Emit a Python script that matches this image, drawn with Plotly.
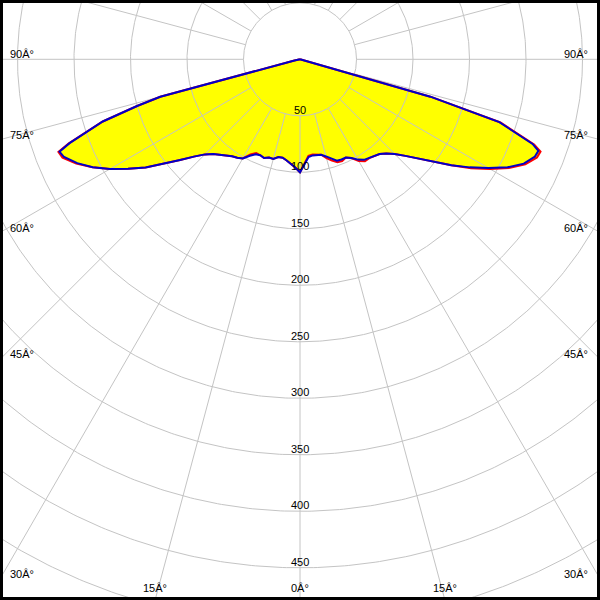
import numpy as np
import plotly.graph_objects as go

# ---- data (gamma in degrees, intensity in cd/klm) ----
gamma = [0, 2.5, 5, 7.5, 10, 12.5, 15, 17.5, 20, 22.5, 25, 27.5, 30, 32.5, 35, 37.5,
         40, 42.5, 45, 47.5, 50, 52.5, 55, 57.5, 60, 62.5, 65, 67.5, 69, 70, 72.5,
         74, 75, 77.5, 80, 85, 90]

# C90-C270 plane (blue)
blue_left = [100, 95.8, 92.8, 90.3, 88.5, 88.6, 91.3, 91.1, 93.0, 91.9, 92.7, 96.2,
             101.3, 103.3, 104.8, 107.3, 110.3, 113.7, 119.0, 127.5, 138.5, 151.8,
             166.8, 180.4, 194.2, 206.8, 217.5, 226.0, 228.0, 217.0, 183.0, 150.0,
             128.0, 5, 3, 1, 0]
blue_right = [100, 93.0, 86.8, 85.8, 86.0, 86.5, 89.0, 92.0, 95.5, 96.0, 96.0, 98.5,
              102.5, 105.5, 106.8, 108.0, 109.5, 113.0, 118.5, 126.5, 136.5, 149.0,
              163.5, 178.0, 192.5, 207.0, 218.5, 225.0, 226.0, 219.0, 185.0, 120.0,
              6, 3, 2, 1, 0]

# C0-C180 plane (red)
red_left = [100, 95.8, 92.8, 90.3, 88.5, 88.6, 91.3, 91.1, 93.0, 91.9, 91.5, 95.0,
            101.3, 103.3, 104.8, 107.3, 110.3, 113.7, 119.0, 127.5, 138.5, 151.8,
            166.8, 180.4, 194.2, 207.0, 218.5, 227.5, 229.0, 218.0, 183.0, 150.0,
            128.0, 5, 3, 1, 0]
red_right = [100, 92.0, 85.8, 85.0, 86.0, 86.5, 90.5, 94.0, 97.0, 97.5, 96.0, 98.5,
             104.0, 107.0, 106.8, 108.0, 109.5, 113.0, 118.5, 126.5, 136.5, 149.0,
             163.5, 179.5, 194.0, 208.5, 220.0, 227.0, 228.0, 220.5, 186.0, 120.0,
             6, 3, 2, 1, 0]

grid_radii = [50, 100, 150, 200, 250, 300, 350, 400, 450, 500, 550]
grid_angles = list(range(0, 360, 15))
radial_values = [50, 100, 150, 200, 250, 300, 350, 400, 450]
side_angles = [90, 75, 60, 45, 30]
side_labels = ["90Â°", "75Â°", "60Â°", "45Â°", "30Â°"]
bottom_angles = [-15, 0, 15]
bottom_labels = ["15Â°", "0Â°", "15Â°"]

# ---- layout constants ----
W, H = 600, 600
PX = 1.13          # pixels per cd/klm
CX, CY = 300, 59.3  # pole position in pixels
XMAX = CX / PX
YTOP = CY / PX
YBOT = (H - CY) / PX

GRID = "#c4c4c4"
FONT = dict(family="Liberation Sans, Arial, sans-serif", size=11, color="black")


def curve(left, right):
    g = np.array(gamma, dtype=float)
    ang = np.concatenate([-g[::-1], g[1:]])
    val = np.concatenate([np.array(left, float)[::-1], np.array(right, float)[1:]])
    t = np.radians(ang)
    return val * np.sin(t), -val * np.cos(t)


fig = go.Figure()

# yellow fill
for left, right in [(red_left, red_right), (blue_left, blue_right)]:
    x, y = curve(left, right)
    fig.add_trace(go.Scatter(x=x, y=y, mode="lines", fill="toself",
                             fillcolor="#ffff00", line=dict(width=0, color="#ffff00"),
                             hoverinfo="skip", showlegend=False))

# grid circles
cx, cy = [], []
t = np.linspace(0, 2 * np.pi, 721)
for r in grid_radii:
    cx += list(r * np.cos(t)) + [None]
    cy += list(r * np.sin(t)) + [None]
fig.add_trace(go.Scatter(x=cx, y=cy, mode="lines", line=dict(color=GRID, width=1),
                         hoverinfo="skip", showlegend=False))

# radial lines
rx, ry = [], []
for a in grid_angles:
    ar = np.radians(a)
    rx += [50 * np.sin(ar), 800 * np.sin(ar), None]
    ry += [-50 * np.cos(ar), -800 * np.cos(ar), None]
fig.add_trace(go.Scatter(x=rx, y=ry, mode="lines", line=dict(color=GRID, width=1),
                         hoverinfo="skip", showlegend=False))

# curves
for (left, right), col in [((red_left, red_right), "#ff0000"),
                           ((blue_left, blue_right), "#0000c8")]:
    x, y = curve(left, right)
    fig.add_trace(go.Scatter(x=x, y=y, mode="lines", line=dict(color=col, width=2),
                             hoverinfo="skip", showlegend=False))

ann = []
for v in radial_values:
    ann.append(dict(x=0, y=-v, text=str(v), showarrow=False, font=FONT,
                    xanchor="center", yanchor="middle", yshift=6))
for a, lab in zip(side_angles, side_labels):
    yy = 0 if a == 90 else -XMAX / np.tan(np.radians(a))
    ann.append(dict(x=-XMAX, y=yy, text=lab, showarrow=False, font=FONT,
                    xanchor="left", yanchor="middle", xshift=8, yshift=5))
    ann.append(dict(x=XMAX, y=yy, text=lab, showarrow=False, font=FONT,
                    xanchor="right", yanchor="middle", xshift=-10, yshift=5))
for a, lab in zip(bottom_angles, bottom_labels):
    ann.append(dict(x=YBOT * np.tan(np.radians(a)), y=-YBOT, text=lab, showarrow=False,
                    font=FONT, xanchor="center", yanchor="middle", yshift=12))

fig.update_layout(
    width=W, height=H, autosize=False,
    margin=dict(l=0, r=0, t=0, b=0),
    paper_bgcolor="white", plot_bgcolor="white",
    xaxis=dict(range=[-XMAX, XMAX], visible=False, fixedrange=True),
    yaxis=dict(range=[-YBOT, YTOP], visible=False, fixedrange=True),
    annotations=ann,
    shapes=[dict(type="rect", xref="paper", yref="paper", x0=0, y0=0, x1=1, y1=1,
                 line=dict(color="black", width=6), layer="above")],
    showlegend=False,
)

fig.write_html("out.html", config={"displayModeBar": False},
               post_script="document.body.style.margin='0';document.body.style.padding='0';document.body.style.overflow='hidden';")
